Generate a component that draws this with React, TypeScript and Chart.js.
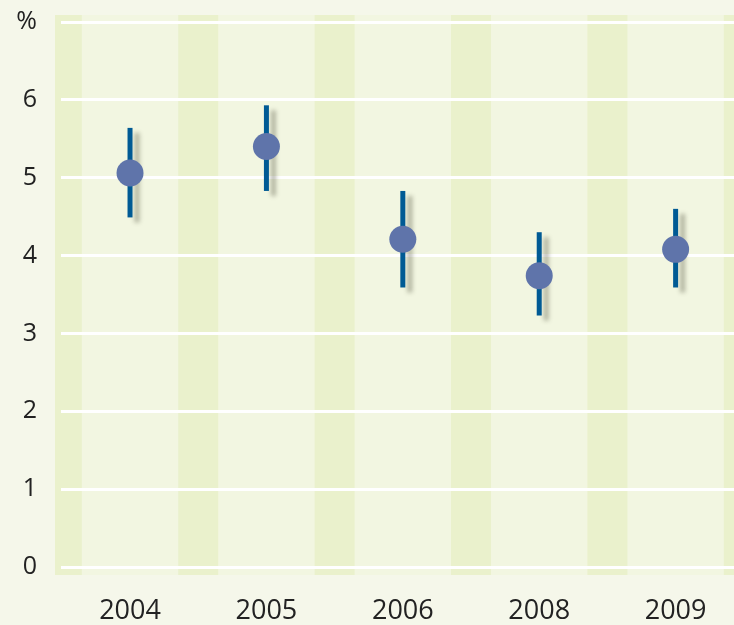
import React, { useEffect, useRef } from "react";
import { Chart, registerables } from "chart.js";

Chart.register(...registerables);

const years = ["2004", "2005", "2006", "2008", "2009"];
const values = [5.06, 5.4, 4.21, 3.74, 4.08];
const lows = [4.49, 4.83, 3.59, 3.23, 3.59];
const highs = [5.64, 5.93, 4.83, 4.3, 4.6];
const yTicks = [0, 1, 2, 3, 4, 5, 6, 7];
const yTopLabel = "%";

const bgPlugin = {
  id: "bgBands",
  beforeDraw(chart: any) {
    const { ctx, chartArea, scales } = chart;
    const x = scales.x;
    ctx.save();
    const left = chartArea.left - 6;
    const top = chartArea.top - 7;
    const bottom = chartArea.bottom + 8;
    ctx.fillStyle = "#f2f6e1";
    ctx.fillRect(left, top, chart.width - left, bottom - top);
    ctx.beginPath();
    ctx.rect(left, top, chart.width - left, bottom - top);
    ctx.clip();
    ctx.fillStyle = "#eaf1cc";
    for (let i = -1; i < years.length; i++) {
      const cx = x.getPixelForValue(i + 0.5);
      ctx.fillRect(cx - 20, top, 40, bottom - top);
    }
    ctx.restore();
  },
  beforeDatasetsDraw(chart: any) {
    const { ctx, scales } = chart;
    const x = scales.x;
    const y = scales.y;
    ctx.save();
    ctx.strokeStyle = "#005a94";
    ctx.lineWidth = 5;
    ctx.lineCap = "butt";
    ctx.shadowColor = "rgba(60,60,40,0.35)";
    ctx.shadowBlur = 4;
    ctx.shadowOffsetX = 7;
    ctx.shadowOffsetY = 5;
    for (let i = 0; i < years.length; i++) {
      const px = x.getPixelForValue(i);
      ctx.beginPath();
      ctx.moveTo(px, y.getPixelForValue(highs[i]));
      ctx.lineTo(px, y.getPixelForValue(lows[i]));
      ctx.stroke();
    }
    ctx.restore();
  },
};

export default function App() {
  const ref = useRef<HTMLCanvasElement>(null);
  useEffect(() => {
    document.body.style.margin = "0";
    document.body.style.background = "#f5f7ea";
    const chart = new Chart(ref.current as HTMLCanvasElement, {
      type: "scatter",
      data: {
        datasets: [
          {
            data: values.map((v, i) => ({ x: i, y: v })),
            backgroundColor: "#5f74aa",
            borderColor: "#5f74aa",
            borderWidth: 0,
            pointRadius: 13.5,
            pointHoverRadius: 13.5,
            clip: false as any,
          },
        ],
      },
      options: {
        animation: false,
        responsive: true,
        maintainAspectRatio: false,
        layout: { autoPadding: false, padding: { top: 22, right: 0, left: 0, bottom: 0 } },
        plugins: { legend: { display: false }, tooltip: { enabled: false } },
        scales: {
          x: {
            type: "linear",
            min: -0.506,
            max: 4.428,
            grid: { display: false, drawTicks: false },
            border: { display: false },
            afterBuildTicks: (s: any) => {
              s.ticks = years.map((_, i) => ({ value: i }));
            },
            afterFit: (s: any) => {
              s.height = 58;
              s.paddingLeft = 0;
              s.paddingRight = 0;
            },
            ticks: {
              padding: 28,
              color: "#222222",
              font: { family: "'Open Sans'", size: 27 },
              maxRotation: 0,
              autoSkip: false,
              callback: (v: any) => years[v] ?? "",
            },
          },
          y: {
            min: 0,
            max: 7,
            grid: { color: "#ffffff", lineWidth: 3, drawTicks: false },
            border: { display: false },
            afterBuildTicks: (s: any) => {
              s.ticks = yTicks.map((v) => ({ value: v }));
            },
            afterFit: (s: any) => {
              s.width = 61;
              s.paddingTop = 0;
              s.paddingBottom = 0;
            },
            ticks: {
              padding: 24,
              color: "#222222",
              font: { family: "'Open Sans'", size: 25 },
              callback: (v: any) => (v === 7 ? yTopLabel : String(v)),
            },
          },
        },
      },
      plugins: [bgPlugin],
    });
    return () => chart.destroy();
  }, []);
  return (
    <div
      style={{
        position: "fixed",
        left: 0,
        top: 0,
        width: 734,
        height: 625,
        background: "#f5f7ea",
      }}
    >
      <canvas ref={ref} />
    </div>
  );
}
